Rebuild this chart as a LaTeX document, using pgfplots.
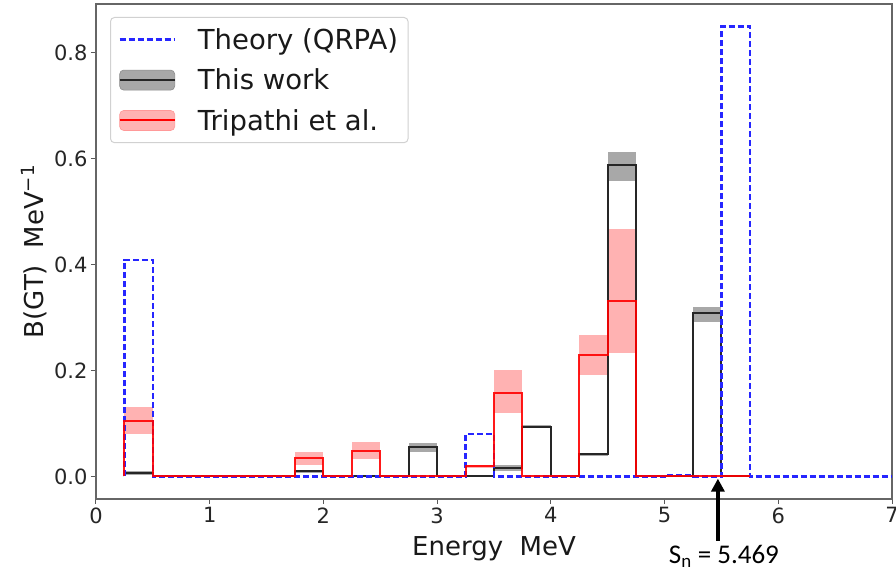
\documentclass[border=0pt]{standalone}
\usepackage{pgfplots}
\pgfplotsset{compat=1.18}
\usepackage{fontspec}
\setmainfont{DejaVu Sans}
\newfontfamily\carlito{Carlito}
\usetikzlibrary{arrows.meta}
\definecolor{thblue}{rgb}{0.15,0.15,1}
\definecolor{twgray}{rgb}{0.66,0.66,0.66}
\definecolor{trpink}{rgb}{1,0.70,0.70}
\begin{document}
\begin{tikzpicture}
\path[use as bounding box] (-96pt,-78pt) rectangle (800pt,499pt);
\begin{axis}[
  at={(0,0)}, anchor=south west,
  scale only axis, width=796pt, height=495pt,
  xmin=0, xmax=7, ymin=-0.0425, ymax=0.8925,
  xtick={0,1,2,3,4,5,6,7}, ytick={0,0.2,0.4,0.6,0.8},
  y tick label style={/pgf/number format/.cd, fixed, fixed zerofill, precision=1, /tikz/.cd},
  /pgf/number format/assume math mode=true,
  tick label style={font=\fontsize{21}{25}\selectfont, color=black!85},
  label style={font=\fontsize{26}{31}\selectfont, color=black!90},
  xlabel={Energy\ \ MeV},
  xlabel style={yshift=-6pt},
  ylabel={B(GT)\ \ MeV\textsuperscript{−1}},
  tick align=outside, major tick length=5pt, tick pos=left,
  tick style={black!65, line width=1pt},
  axis line style={black!60, line width=1.3pt},
  clip=false,
  legend cell align=left,
  legend style={at={(0,1)}, anchor=north west, xshift=14pt, yshift=-13pt,
    draw=black!18, rounded corners=4pt, line width=1pt,
    font=\fontsize{27.5}{32}\selectfont, text=black!90,
    inner xsep=8pt, inner ysep=9pt, row sep=14pt,
    /tikz/every odd column/.append style={column sep=20pt}},
]
% uncertainty bands: This work
\addplot[fill=twgray, draw=none, forget plot] coordinates {(0.25,0.003)(0.5,0.003)(0.5,0.010)(0.25,0.010)} -- cycle;
\addplot[fill=twgray, draw=none, forget plot] coordinates {(1.75,0.007)(2.0,0.007)(2.0,0.013)(1.75,0.013)} -- cycle;
\addplot[fill=twgray, draw=none, forget plot] coordinates {(2.75,0.047)(3.0,0.047)(3.0,0.064)(2.75,0.064)} -- cycle;
\addplot[fill=twgray, draw=none, forget plot] coordinates {(3.5,0.011)(3.75,0.011)(3.75,0.021)(3.5,0.021)} -- cycle;
\addplot[fill=twgray, draw=none, forget plot] coordinates {(3.75,0.091)(4.0,0.091)(4.0,0.097)(3.75,0.097)} -- cycle;
\addplot[fill=twgray, draw=none, forget plot] coordinates {(4.25,0.038)(4.5,0.038)(4.5,0.045)(4.25,0.045)} -- cycle;
\addplot[fill=twgray, draw=none, forget plot] coordinates {(4.5,0.558)(4.75,0.558)(4.75,0.613)(4.5,0.613)} -- cycle;
\addplot[fill=twgray, draw=none, forget plot] coordinates {(5.25,0.291)(5.5,0.291)(5.5,0.321)(5.25,0.321)} -- cycle;
% uncertainty bands: Tripathi
\addplot[fill=trpink, draw=none, forget plot] coordinates {(0.25,0.081)(0.5,0.081)(0.5,0.131)(0.25,0.131)} -- cycle;
\addplot[fill=trpink, draw=none, forget plot] coordinates {(1.75,0.021)(2.0,0.021)(2.0,0.047)(1.75,0.047)} -- cycle;
\addplot[fill=trpink, draw=none, forget plot] coordinates {(2.25,0.033)(2.5,0.033)(2.5,0.065)(2.25,0.065)} -- cycle;
\addplot[fill=trpink, draw=none, forget plot] coordinates {(3.25,0.016)(3.5,0.016)(3.5,0.022)(3.25,0.022)} -- cycle;
\addplot[fill=trpink, draw=none, forget plot] coordinates {(3.5,0.120)(3.75,0.120)(3.75,0.202)(3.5,0.202)} -- cycle;
\addplot[fill=trpink, draw=none, forget plot] coordinates {(4.25,0.192)(4.5,0.192)(4.5,0.268)(4.25,0.268)} -- cycle;
\addplot[fill=trpink, draw=none, forget plot] coordinates {(4.5,0.233)(4.75,0.233)(4.75,0.467)(4.5,0.467)} -- cycle;
% This work (step)
\addplot[const plot, black!85, line width=2pt, forget plot] coordinates {
 (0.25,0) (0.25,0.006) (0.5,0) (1.75,0.010) (2.0,0) (2.75,0.055) (3.0,0)
 (3.5,0.016) (3.75,0.094) (4.0,0) (4.25,0.042) (4.5,0.588) (4.75,0)
 (5.25,0.308) (5.5,0) (5.75,0)};
% Theory (QRPA)
\addplot[const plot, draw=thblue, line width=2.4pt, dash pattern=on 6pt off 3pt, forget plot] coordinates {
 (0.25,0) (0.25,0.409) (0.5,0) (3.25,0.080) (3.5,0) (5.0,0.003) (5.25,0)
 (5.5,0.850) (5.75,0) (7.0,0)};
% Tripathi et al.
\addplot[const plot, red, opacity=0.9, line width=2pt, forget plot] coordinates {
 (0.25,0) (0.25,0.105) (0.5,0) (1.75,0.034) (2.0,0) (2.25,0.049) (2.5,0)
 (3.25,0.019) (3.5,0.158) (3.75,0) (4.25,0.229) (4.5,0.331) (4.75,0) (5.75,0)};
% legend
\addlegendimage{legend image code/.code={\draw[draw=thblue, line width=2.4pt, dash pattern=on 6pt off 3pt] (0pt,0pt) -- (55pt,0pt);}}
\addlegendentry{Theory (QRPA)}
\addlegendimage{legend image code/.code={\fill[twgray, draw=black!45, line width=0.6pt] (0pt,-10pt) rectangle (55pt,10pt); \draw[black!85, line width=2pt] (0pt,0pt) -- (55pt,0pt);}}
\addlegendentry{This work}
\addlegendimage{legend image code/.code={\fill[trpink, draw=red!40, line width=0.6pt] (0pt,-10pt) rectangle (55pt,10pt); \draw[red, line width=2pt] (0pt,0pt) -- (55pt,0pt);}}
\addlegendentry{Tripathi et al.}
% neutron separation energy
\draw[line width=3.5pt, -{Triangle[width=13pt,length=13pt]}] (axis cs:5.469,-0.121) -- (axis cs:5.469,-0.004);
\node[anchor=north, xshift=6pt, yshift=-5pt, inner sep=0pt, font=\carlito\fontsize{27}{32}\selectfont] at (axis cs:5.469,-0.121) {S\textsubscript{n} = 5.469};
\end{axis}
\end{tikzpicture}
\end{document}
